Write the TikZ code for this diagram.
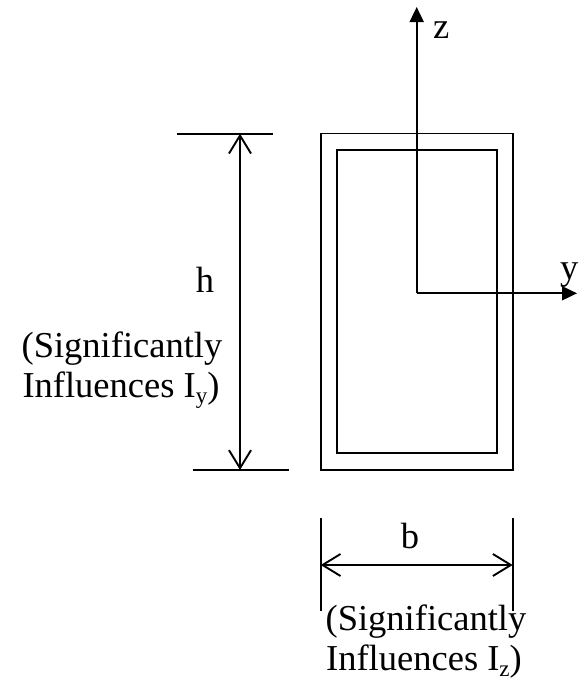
\documentclass[tikz,border=0pt]{standalone}
\usepackage{fontspec}
\setmainfont{Liberation Serif}
\usetikzlibrary{arrows.meta}
\newcommand{\lowsub}[1]{\raisebox{-6pt}{\fontsize{23}{23}\selectfont #1}}
\begin{document}
\begin{tikzpicture}[x=1pt,y=-1pt,
  ln/.style={line width=1.9pt},
  axis/.style={ln,-{Triangle[length=15pt,width=14pt]}},
  dim/.style={ln,{Straight Barb[length=18pt,width=22pt]}-{Straight Barb[length=18pt,width=22pt]}},
  lbl/.style={font=\fontsize{36.5}{42}\selectfont,inner sep=0pt,align=center}]
\useasboundingbox (0,0) rectangle (584,681);
% section
\draw[ln] (320.7,133.5) rectangle (512.7,470);
\draw[ln] (336.7,150.3) rectangle (496.7,453.3);
% axes
\coordinate (o) at (416.7,293.3);
\coordinate (zt) at (416.7,7);
\coordinate (yt) at (577,293.3);
\draw[axis] (o) -- (zt);
\draw[axis] (o) -- (yt);
\node[lbl,anchor=base west] (zl) at (433,38) {z};
\node[lbl,anchor=base west] (yl) at (560,279) {y};
% h dimension
\coordinate (h1a) at (177,133.7);
\coordinate (h1b) at (272.7,133.7);
\coordinate (h2a) at (192.7,470);
\coordinate (h2b) at (288.7,470);
\draw[ln] (h1a) -- (h1b);
\draw[ln] (h2a) -- (h2b);
\coordinate (ht) at (240,133.7);
\coordinate (hb) at (240,470);
\draw[dim] (ht) -- (hb);
\node[lbl,anchor=base] (hl) at (205,292) {h};
\node[lbl,anchor=base] (hs1) at (122,357) {(Significantly};
\node[lbl,anchor=base] (hs2) at (121,397) {Influences I\lowsub{y})};
% b dimension
\coordinate (b1a) at (320.7,518);
\coordinate (b1b) at (320.7,611);
\coordinate (b2a) at (512.7,518);
\coordinate (b2b) at (512.7,611);
\draw[ln] (b1a) -- (b1b);
\draw[ln] (b2a) -- (b2b);
\coordinate (bl0) at (320.7,565);
\coordinate (br0) at (512.7,565);
\draw[dim] (bl0) -- (br0);
\node[lbl,anchor=base] (bl) at (410,548) {b};
\node[lbl,anchor=base] (bs1) at (426,630) {(Significantly};
\node[lbl,anchor=base] (bs2) at (424,670) {Influences I\lowsub{z})};
\end{tikzpicture}
\end{document}
